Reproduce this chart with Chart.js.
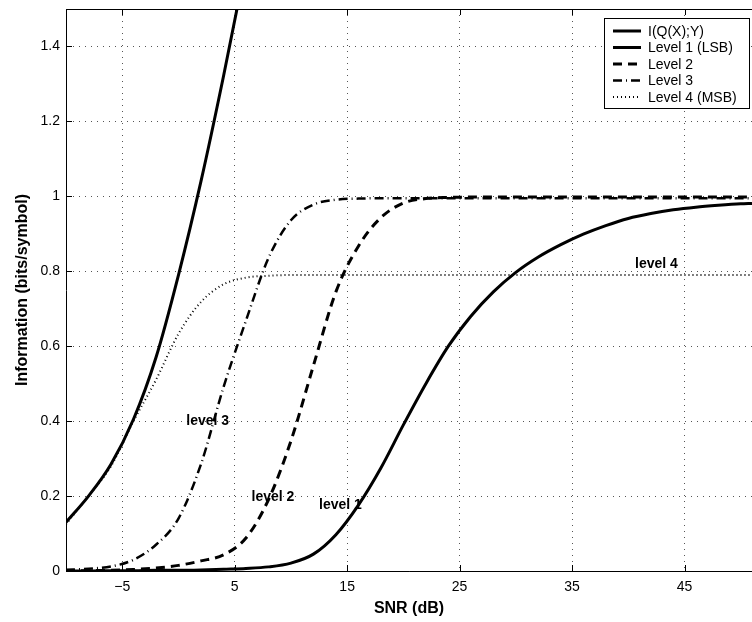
<!DOCTYPE html>
<html>
<head>
<meta charset="utf-8">
<script src="https://cdn.jsdelivr.net/npm/chart.js@4/dist/chart.umd.min.js"></script>
<style>
  html, body { margin: 0; padding: 0; background: #fff; }
  #wrap { width: 752px; height: 622px; }
</style>
</head>
<body>
<div id="wrap"><canvas id="grafico" width="752" height="622"></canvas></div>
<script>
// valori (SNR in dB)
const snr = [-10, -8, -6, -4, -2, 0, 2, 4, 6, 8, 10, 12, 14, 16, 18, 20, 22, 24, 26, 28, 30, 32, 34, 36, 38, 40, 42, 44, 46, 48, 50, 51];

const infoQ = [0.13, 0.20, 0.285, 0.405, 0.57, 0.79, 1.04, 1.32, 1.62, null, null, null, null, null, null, null,
    null, null, null, null, null, null, null, null, null, null, null, null, null, null, null, null];
const level1 = [0, 0, 0.001, 0.001, 0.002, 0.002, 0.003, 0.005, 0.007, 0.011, 0.021, 0.045, 0.097, 0.176, 0.275, 0.39,
    0.50, 0.60, 0.68, 0.745, 0.797, 0.838, 0.871, 0.899, 0.922, 0.941, 0.954, 0.964, 0.971, 0.976, 0.98, 0.981];
const level2 = [0.001, 0.001, 0.002, 0.004, 0.008, 0.015, 0.027, 0.043, 0.088, 0.19, 0.347, 0.548, 0.745, 0.867, 0.943, 0.982,
    0.994, 0.997, 0.998, 0.998, 0.998, 0.998, 0.998, 0.998, 0.998, 0.998, 0.998, 0.998, 0.998, 0.998, 0.998, 0.998];
const level3 = [0.003, 0.006, 0.012, 0.03, 0.07, 0.14, 0.285, 0.49, 0.668, 0.835, 0.936, 0.978, 0.991, 0.994, 0.995, 0.995,
    0.995, 0.995, 0.995, 0.995, 0.995, 0.995, 0.995, 0.995, 0.995, 0.995, 0.995, 0.995, 0.995, 0.995, 0.995, 0.995];
const level4 = [0.125, 0.2, 0.28, 0.40, 0.51, 0.633, 0.718, 0.765, 0.783, 0.788, 0.79, 0.79, 0.79, 0.79, 0.79, 0.79,
    0.79, 0.79, 0.79, 0.79, 0.79, 0.79, 0.79, 0.79, 0.79, 0.79, 0.79, 0.79, 0.79, 0.79, 0.79, 0.79];

const xTicks = [-5, 5, 15, 25, 35, 45];
const yTicks = [0, 0.2, 0.4, 0.6, 0.8, 1, 1.2, 1.4];

// etichette sul grafico: [testo, snr, valore]
const etichette = [
    ['level 1', 14.4, 0.176],
    ['level 2', 8.4, 0.197],
    ['level 3', 2.6, 0.40],
    ['level 4', 42.5, 0.82]
];

const FONT = '"Liberation Sans", Arial, Helvetica, sans-serif';

function serie(valori) {
    return snr.map((x, i) => ({ x: x, y: valori[i] }));
}

function creaDataset(label, valori, dash, spessore) {
    return {
        label: label,
        data: serie(valori),
        borderColor: '#000',
        borderWidth: spessore,
        borderDash: dash,
        pointRadius: 0,
        fill: false,
        cubicInterpolationMode: 'monotone',
        spanGaps: false
    };
}

const datasets = [
    creaDataset('I(Q(X);Y)', infoQ, [], 3),
    creaDataset('Level 1 (LSB)', level1, [], 3),
    creaDataset('Level 2', level2, [9, 6], 3),
    creaDataset('Level 3', level3, [9, 4, 1, 4], 2.5),
    creaDataset('Level 4 (MSB)', level4, [1, 3], 2)
];

// tacche interne, bordo superiore, legenda ed etichette
const extra = {
    id: 'extra',
    afterDraw: function (chart) {
        const ctx = chart.ctx;
        const area = chart.chartArea;
        const sx = chart.scales.x, sy = chart.scales.y;
        ctx.save();
        ctx.strokeStyle = '#000';
        ctx.lineWidth = 1;
        ctx.setLineDash([]);
        ctx.beginPath();
        xTicks.forEach(function (t) {
            const px = Math.round(sx.getPixelForValue(t)) + 0.5;
            ctx.moveTo(px, area.bottom);
            ctx.lineTo(px, area.bottom - 6);
            ctx.moveTo(px, area.top);
            ctx.lineTo(px, area.top + 6);
        });
        yTicks.forEach(function (t) {
            const py = Math.round(sy.getPixelForValue(t)) + 0.5;
            ctx.moveTo(area.left, py);
            ctx.lineTo(area.left + 6, py);
        });
        ctx.moveTo(area.left, area.top + 0.5);
        ctx.lineTo(area.right, area.top + 0.5);
        ctx.stroke();

        // etichette
        ctx.fillStyle = '#000';
        ctx.font = 'bold 14px ' + FONT;
        ctx.textAlign = 'center';
        ctx.textBaseline = 'middle';
        etichette.forEach(function (e) {
            ctx.fillText(e[0], sx.getPixelForValue(e[1]), sy.getPixelForValue(e[2]));
        });

        // legenda
        const lx = 604, ly = 18, lw = 145, lh = 90;
        ctx.fillStyle = '#fff';
        ctx.fillRect(lx, ly, lw, lh);
        ctx.strokeStyle = '#000';
        ctx.lineWidth = 1;
        ctx.strokeRect(lx + 0.5, ly + 0.5, lw, lh);
        ctx.font = '14px ' + FONT;
        ctx.textAlign = 'left';
        ctx.textBaseline = 'middle';
        chart.data.datasets.forEach(function (ds, i) {
            const y = ly + 13 + i * 16.5;
            ctx.beginPath();
            ctx.lineWidth = ds.borderWidth;
            ctx.setLineDash(ds.borderDash);
            ctx.moveTo(lx + 9, y);
            ctx.lineTo(lx + 37, y);
            ctx.stroke();
            ctx.setLineDash([]);
            ctx.fillStyle = '#000';
            ctx.fillText(ds.label, lx + 44, y + 1);
        });
        ctx.restore();
    }
};

new Chart(document.getElementById('grafico').getContext('2d'), {
    type: 'line',
    data: { datasets: datasets },
    options: {
        responsive: false,
        animation: false,
        layout: { padding: { top: 9, right: 0, left: 0, bottom: 0 } },
        plugins: {
            legend: { display: false },
            tooltip: { enabled: false }
        },
        scales: {
            x: {
                type: 'linear',
                min: -10,
                max: 51,
                afterBuildTicks: function (s) { s.ticks = xTicks.map(v => ({ value: v })); },
                afterFit: function (s) { s.height = 51; s.paddingLeft = 0; s.paddingRight = 0; },
                ticks: {
                    color: '#000',
                    padding: 8,
                    font: { family: FONT, size: 14 },
                    callback: v => (v < 0 ? '\u2212' + Math.abs(v) : String(v))
                },
                grid: { color: '#555', lineWidth: 1, drawTicks: false },
                border: { display: true, color: '#000', width: 1, dash: [1, 5] },
                title: {
                    display: true,
                    text: 'SNR (dB)',
                    color: '#000',
                    font: { family: FONT, size: 16, weight: 'bold' },
                    padding: { top: 0, bottom: 4 }
                }
            },
            y: {
                min: 0,
                max: 1.5,
                afterBuildTicks: function (s) { s.ticks = yTicks.map(v => ({ value: v })); },
                afterFit: function (s) { s.width = 66; s.paddingTop = 0; s.paddingBottom = 0; },
                ticks: {
                    color: '#000',
                    padding: 6,
                    font: { family: FONT, size: 14 },
                    callback: v => String(Math.round(v * 10) / 10)
                },
                grid: { color: '#555', lineWidth: 1, drawTicks: false },
                border: { display: true, color: '#000', width: 1, dash: [1, 5] },
                title: {
                    display: true,
                    text: 'Information (bits/symbol)',
                    color: '#000',
                    font: { family: FONT, size: 16, weight: 'bold' },
                    padding: { top: 13, bottom: 0 }
                }
            }
        }
    },
    plugins: [extra]
});
</script>
</body>
</html>
